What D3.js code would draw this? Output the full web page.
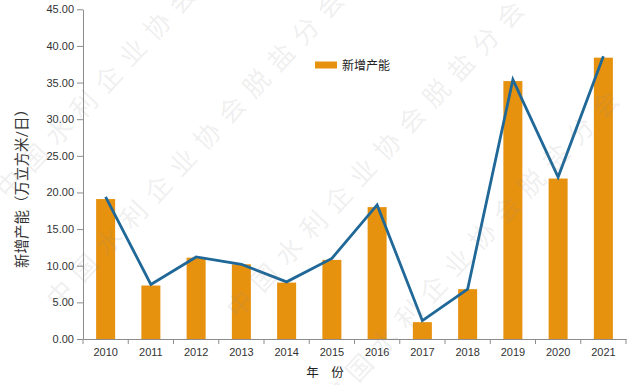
<!DOCTYPE html>
<html lang="zh">
<head>
    <meta charset="UTF-8">
    <title>新增产能</title>
    <script src="https://d3js.org/d3.v7.min.js"></script>
    <style>
        body { margin: 0; background: #fff; }
        svg { display: block; font-family: Lato, "Noto Sans CJK SC", sans-serif; }
        .axis path, .axis line { stroke: #8c8c8c; }
        .axis text { fill: #333; font-size: 11px; }
    </style>
</head>
<body>
    <svg id="svg"></svg>
    <script>
        const years = ['2010','2011','2012','2013','2014','2015','2016','2017','2018','2019','2020','2021'];
        const barValues = [19.1, 7.3, 11.1, 10.2, 7.7, 10.8, 18.0, 2.3, 6.8, 35.2, 21.9, 38.4];
        const lineValues = [19.4, 7.45, 11.2, 10.2, 7.8, 11.0, 18.3, 2.5, 6.8, 35.4, 22.1, 38.6];
        const yTicks = [0, 5, 10, 15, 20, 25, 30, 35, 40, 45];
        const watermark = '中国水利企业协会脱盐分会';

        const width = 640;
        const height = 385;
        const svg = d3.select('#svg')
            .attr('width', width)
            .attr('height', height);

        const plotLeft = 83, plotRight = 626, plotTop = 9.3, plotBottom = 339;

        const xScale = d3.scaleBand()
            .domain(years)
            .range([plotLeft, plotRight])
            .paddingInner(0.58)
            .paddingOuter(0.29);
        const yScale = d3.scaleLinear()
            .domain([0, 45])
            .range([plotBottom, plotTop]);

        // bars
        svg.selectAll('rect.bar')
            .data(barValues)
            .enter()
            .append('rect')
            .attr('class', 'bar')
            .attr('x', (d, i) => xScale(years[i]))
            .attr('y', d => yScale(d))
            .attr('width', xScale.bandwidth())
            .attr('height', d => plotBottom - yScale(d))
            .attr('fill', '#e6920f');

        // line
        const line = d3.line()
            .x((d, i) => xScale(years[i]) + xScale.bandwidth() / 2)
            .y(d => yScale(d));
        svg.append('path')
            .datum(lineValues)
            .attr('d', line)
            .attr('fill', 'none')
            .attr('stroke', '#1f6898')
            .attr('stroke-width', 2.8)
            .attr('stroke-linejoin', 'miter');

        // y axis
        const yAxis = d3.axisLeft(yScale)
            .tickValues(yTicks)
            .tickFormat(d3.format('.2f'))
            .tickSize(6)
            .tickPadding(3)
            .tickSizeOuter(0);
        svg.append('g')
            .attr('class', 'axis')
            .attr('transform', 'translate(' + plotLeft + ',0)')
            .call(yAxis);

        // x axis: labels at the centre, ticks between categories
        const xAxis = d3.axisBottom(xScale).tickSize(0).tickPadding(9).tickSizeOuter(0);
        const gx = svg.append('g')
            .attr('class', 'axis')
            .attr('transform', 'translate(0,' + plotBottom + ')')
            .call(xAxis);
        const step = xScale.step();
        const bounds = years.map((d, i) => plotLeft + i * step).concat([plotRight]);
        gx.selectAll('line.sep')
            .data(bounds)
            .enter()
            .append('line')
            .attr('class', 'sep')
            .attr('x1', d => d).attr('x2', d => d)
            .attr('y1', 0).attr('y2', 5);

        // axis titles
        svg.append('text')
            .attr('x', 325)
            .attr('y', 377)
            .attr('text-anchor', 'middle')
            .attr('fill', '#222')
            .style('font-size', '12.5px')
            .text('年　份');
        svg.append('text')
            .attr('transform', 'translate(27,185) rotate(-90)')
            .attr('text-anchor', 'middle')
            .attr('fill', '#333')
            .style('font-size', '14.5px')
            .text('新增产能（万立方米/日）');

        // legend
        svg.append('rect')
            .attr('x', 315).attr('y', 61.5)
            .attr('width', 22).attr('height', 7)
            .attr('fill', '#e6920f');
        svg.append('text')
            .attr('x', 342).attr('y', 69.5)
            .attr('fill', '#222')
            .style('font-size', '12px')
            .text('新增产能');

        // watermark
        const marks = [[8, 200], [58, 310], [238, 320], [333, 410]];
        svg.selectAll('text.wm')
            .data(marks)
            .enter()
            .append('text')
            .attr('class', 'wm')
            .attr('transform', d => 'translate(' + d[0] + ',' + d[1] + ') rotate(-47)')
            .attr('fill', '#888')
            .attr('fill-opacity', 0.14)
            .style('font-size', '26px')
            .style('letter-spacing', '10px')
            .text(watermark);
    </script>
</body>
</html>
